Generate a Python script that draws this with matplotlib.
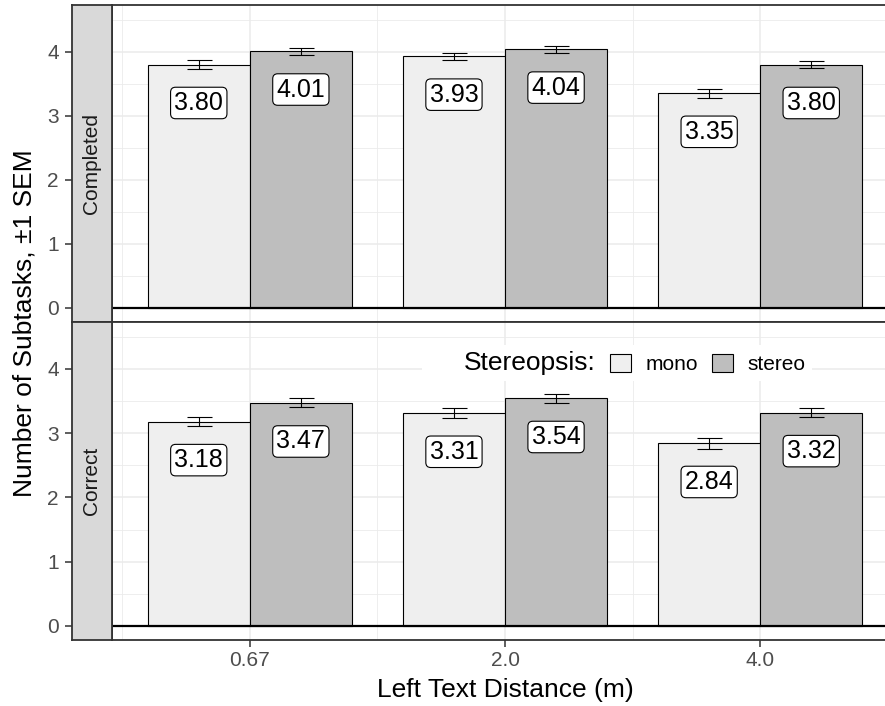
import numpy as np
import matplotlib.pyplot as plt
from matplotlib.patches import Patch
from matplotlib.ticker import MultipleLocator

plt.rcParams['font.family'] = ['Liberation Sans', 'DejaVu Sans']

distances = ['0.67', '2.0', '4.0']
facets = ['Completed', 'Correct']
mono_mean = {'Completed': [3.80, 3.93, 3.35], 'Correct': [3.18, 3.31, 2.84]}
stereo_mean = {'Completed': [4.01, 4.04, 3.80], 'Correct': [3.47, 3.54, 3.32]}
mono_sem = {'Completed': [0.065, 0.055, 0.07], 'Correct': [0.075, 0.08, 0.08]}
stereo_sem = {'Completed': [0.055, 0.055, 0.06], 'Correct': [0.07, 0.075, 0.07]}

MONO_C = '#EFEFEF'
STEREO_C = '#BEBEBE'
STRIP_C = '#D9D9D9'
DARK = '#333333'

W, H = 885, 706
fig = plt.figure(figsize=(W / 100, H / 100), dpi=100)


def px_box(x0, y0, x1, y1):
    return [x0 / W, 1 - y1 / H, (x1 - x0) / W, (y1 - y0) / H]


panel_y = [(5, 322), (322, 640)]
x = np.arange(1, len(distances) + 1)

for i, facet in enumerate(facets):
    y0, y1 = panel_y[i]
    ax = fig.add_axes(px_box(112, y0, 898, y1))
    sax = fig.add_axes(px_box(72, y0, 112, y1))
    ylim = (-0.22, 4.73)
    ax.set_ylim(*ylim)
    sax.set_ylim(*ylim)
    ax.set_xlim(0.46, 3.54)

    # grid
    ax.set_axisbelow(True)
    ax.yaxis.set_major_locator(MultipleLocator(1))
    ax.yaxis.set_minor_locator(MultipleLocator(0.5))
    ax.set_xticks(x)
    ax.set_xticks([0.5, 1.5, 2.5, 3.5], minor=True)
    ax.grid(which='major', color='#EBEBEB', lw=1.1)
    ax.grid(which='minor', color='#EBEBEB', lw=0.6)
    ax.tick_params(axis='y', which='both', left=False, labelleft=False)
    ax.tick_params(axis='x', which='minor', bottom=False)
    for s in ax.spines.values():
        s.set_color(DARK)
        s.set_linewidth(1.3)

    ax.bar(x - 0.2, mono_mean[facet], width=0.4, color=MONO_C,
           edgecolor='black', lw=0.8, zorder=2)
    ax.bar(x + 0.2, stereo_mean[facet], width=0.4, color=STEREO_C,
           edgecolor='black', lw=0.8, zorder=2)
    ax.errorbar(x - 0.2, mono_mean[facet], yerr=mono_sem[facet], fmt='none',
                ecolor='black', elinewidth=0.8, capsize=9, capthick=0.8, zorder=3)
    ax.errorbar(x + 0.2, stereo_mean[facet], yerr=stereo_sem[facet], fmt='none',
                ecolor='black', elinewidth=0.8, capsize=9, capthick=0.8, zorder=3)
    ax.axhline(0, color='black', lw=1.6, zorder=4)

    box = dict(boxstyle='round,pad=0.15,rounding_size=0.2', fc='white',
               ec='black', lw=0.8)
    for xi, v in zip(x - 0.2, mono_mean[facet]):
        ax.text(xi, v - 0.6, f'{v:.2f}', ha='center', va='center',
                fontsize=18, color='black', bbox=box, zorder=5)
    for xi, v in zip(x + 0.2, stereo_mean[facet]):
        ax.text(xi, v - 0.6, f'{v:.2f}', ha='center', va='center',
                fontsize=18, color='black', bbox=box, zorder=5)

    if i == len(facets) - 1:
        ax.set_xticklabels(distances)
        ax.tick_params(axis='x', which='major', length=5, width=1.1,
                       color=DARK, labelsize=15, labelcolor='#4D4D4D', pad=3)
    else:
        ax.tick_params(axis='x', which='major', bottom=False, labelbottom=False)

    # strip with y axis outside
    sax.set_facecolor(STRIP_C)
    sax.set_xticks([])
    sax.yaxis.set_major_locator(MultipleLocator(1))
    sax.tick_params(axis='y', length=5, width=1.1, color=DARK, labelsize=15,
                    labelcolor='#4D4D4D', pad=4.5)
    for s in sax.spines.values():
        s.set_color(DARK)
        s.set_linewidth(1.3)
    sax.text(0.5, 0.5, facet, transform=sax.transAxes, rotation=90,
             ha='center', va='center', fontsize=15, color='#1A1A1A')

    if facet == 'Correct':
        handles = [Patch(facecolor='none', edgecolor='none'),
                   Patch(facecolor=MONO_C, edgecolor='black', lw=0.8),
                   Patch(facecolor=STEREO_C, edgecolor='black', lw=0.8)]
        leg = ax.legend(handles, ['Stereopsis:', 'mono', 'stereo'], ncol=3,
                        loc='center', bbox_to_anchor=(617 / W, 1 - 363 / H),
                        bbox_transform=fig.transFigure, fontsize=15,
                        handlelength=1.0, handleheight=1.0, handletextpad=0.7,
                        columnspacing=0.7, borderpad=0.3, fancybox=False,
                        framealpha=1, facecolor='white', edgecolor='none')
        leg.get_texts()[0].set_fontsize(19)

fig.text(25 / W, 1 - 323 / H, 'Number of Subtasks, \u00b11 SEM', rotation=90,
         ha='center', va='center', fontsize=19)
fig.text(505 / W, 1 - 690 / H, 'Left Text Distance (m)', ha='center',
         va='center', fontsize=19)

fig.savefig('out.png', dpi=100)
